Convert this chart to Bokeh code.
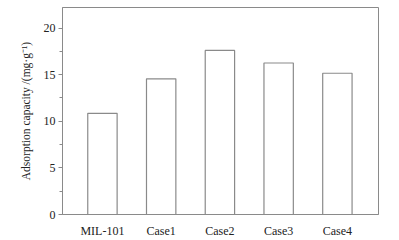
from bokeh.plotting import figure
from bokeh.embed import file_html
from bokeh.resources import INLINE
from bokeh.models import Range1d, FixedTicker, ColumnDataSource

categories = ["MIL-101", "Case1", "Case2", "Case3", "Case4"]
capacity = [10.85, 14.55, 17.6, 16.25, 15.15]
y_ticks = [0, 5, 10, 15, 20]
y_minor = [2.5, 7.5, 12.5, 17.5]

xpos = list(range(1, len(categories) + 1))
src = ColumnDataSource(dict(x=xpos, top=capacity, name=categories))

p = figure(width=399, height=240, output_backend="svg", toolbar_location=None,
           x_range=Range1d(0.32, 5.70), y_range=Range1d(0, 22.2))
p.min_border_left = 62
p.min_border_right = 21
p.min_border_top = 7
p.min_border_bottom = 24
p.background_fill_color = "white"
p.border_fill_color = "white"
p.outline_line_color = "#8a8a8a"
p.outline_line_width = 1
p.grid.visible = False

p.vbar(x="x", top="top", width=0.5, bottom=0, source=src,
       fill_color="white", line_color="#8a8a8a", line_width=1.2)

font = "Liberation Serif"
p.xaxis.ticker = FixedTicker(ticks=xpos)
p.xaxis.major_label_overrides = {i: c for i, c in zip(xpos, categories)}
p.xaxis.major_tick_line_color = None
p.xaxis.minor_tick_line_color = None
p.xaxis.axis_line_color = "#8a8a8a"
p.xaxis.major_label_text_font = font
p.xaxis.major_label_text_font_size = "12px"
p.xaxis.major_label_text_color = "#222222"
p.xaxis.major_label_standoff = 3

p.yaxis.ticker = FixedTicker(ticks=y_ticks, minor_ticks=y_minor)
p.yaxis.axis_line_color = "#8a8a8a"
p.yaxis.major_tick_line_color = "#8a8a8a"
p.yaxis.minor_tick_line_color = "#8a8a8a"
p.yaxis.major_tick_in = 0
p.yaxis.major_tick_out = 4
p.yaxis.minor_tick_in = 0
p.yaxis.minor_tick_out = 3
p.yaxis.major_label_text_font = font
p.yaxis.major_label_text_font_size = "12px"
p.yaxis.major_label_text_color = "#222222"
p.yaxis.major_label_standoff = 3
p.yaxis.axis_label = "Adsorption capacity /(mg·g⁻¹)"
p.yaxis.axis_label_text_font = font
p.yaxis.axis_label_text_font_size = "11.5px"
p.yaxis.axis_label_text_font_style = "normal"
p.yaxis.axis_label_text_color = "#222222"
p.yaxis.axis_label_standoff = 9

open("out.html", "w").write(file_html(p, INLINE))
